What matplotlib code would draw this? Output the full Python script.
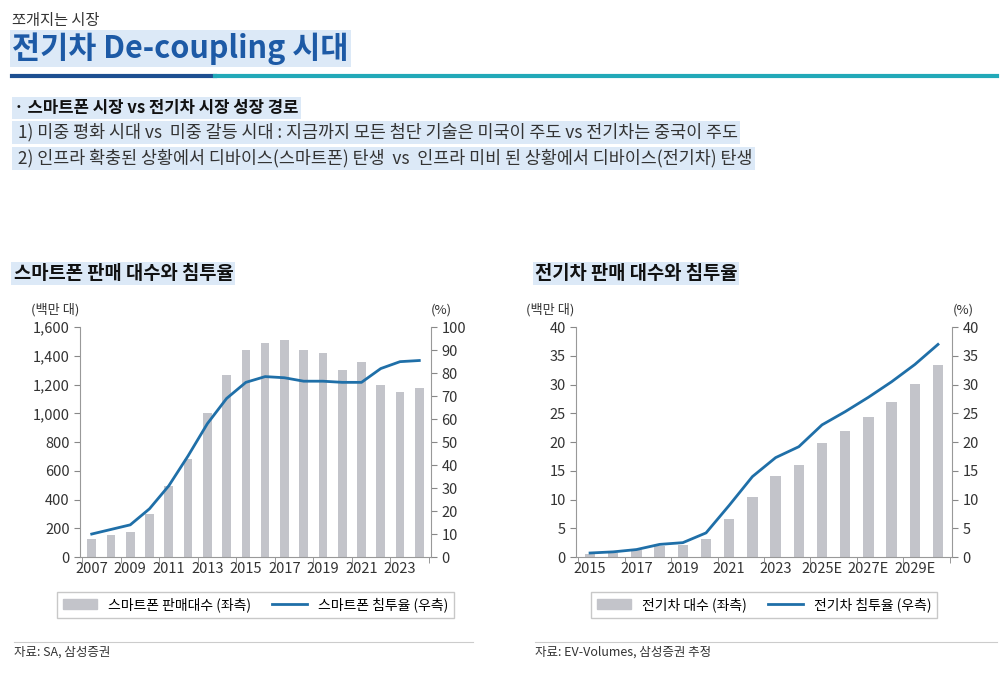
import numpy as np
import matplotlib.pyplot as plt

plt.rcParams['font.family'] = ['Noto Sans CJK KR', 'DejaVu Sans']

# 스마트폰
sp_years = [str(y) for y in range(2007, 2025)]
sp_units = [122, 151, 172, 297, 491, 680, 1000, 1270, 1440, 1490, 1510, 1440, 1420, 1300, 1360, 1200, 1150, 1180]
sp_rate = [10, 12, 14, 21, 31, 44, 58, 69, 76, 78.5, 78, 76.5, 76.5, 76, 76, 82, 85, 85.5]

# 전기차
ev_years = ['2015', '2016', '2017', '2018', '2019', '2020', '2021', '2022', '2023', '2024',
            '2025E', '2026E', '2027E', '2028E', '2029E', '2030E']
ev_units = [0.5, 0.7, 1.2, 2.0, 2.1, 3.2, 6.7, 10.5, 14.1, 16.1, 19.8, 21.9, 24.3, 27.0, 30.1, 33.4]
ev_rate = [0.7, 0.9, 1.3, 2.2, 2.5, 4.2, 9.0, 14.0, 17.3, 19.2, 23.0, 25.3, 27.8, 30.5, 33.5, 37.0]

BAR = '#c3c4ca'
LINE = '#1f6fa8'
TXT = '#333333'
HL = dict(facecolor='#dce9f7', edgecolor='none', pad=1.5)

fig = plt.figure(figsize=(10.02, 6.76), dpi=100)

fig.text(0.012, 0.982, '쪼개지는 시장', fontsize=11, color=TXT, va='top')
fig.text(0.012, 0.952, '전기차 De-coupling 시대', fontsize=22, color='#1d5aa6',
         fontweight='bold', va='top', bbox=HL)
fig.add_artist(plt.Line2D([0.012, 0.215], [0.887, 0.887], color='#1d4f91', lw=3))
fig.add_artist(plt.Line2D([0.215, 0.995], [0.887, 0.887], color='#22a9b8', lw=3))

fig.text(0.014, 0.84, '· 스마트폰 시장 vs 전기차 시장 성장 경로', fontsize=12, color='#111',
         fontweight='bold', va='center', bbox=HL)
fig.text(0.014, 0.804, ' 1) 미중 평화 시대 vs  미중 갈등 시대 : 지금까지 모든 첨단 기술은 미국이 주도 vs 전기차는 중국이 주도',
         fontsize=12.5, color=TXT, va='center', bbox=HL)
fig.text(0.014, 0.766, ' 2) 인프라 확충된 상황에서 디바이스(스마트폰) 탄생  vs  인프라 미비 된 상황에서 디바이스(전기차) 탄생',
         fontsize=12.5, color=TXT, va='center', bbox=HL)


def panel(rect, title, cats, units, rate, ylim, yticks, rlim, rticks, labels, src, leg1, leg2, fmt, tx):
    ax = fig.add_axes(rect)
    x = np.arange(len(cats))
    ax.bar(x, units, width=0.45, color=BAR)
    ax.set_ylim(*ylim)
    ax.set_yticks(yticks)
    ax.set_yticklabels([fmt(v) for v in yticks])
    ax.set_xlim(-0.6, len(cats) - 0.4)
    ax.set_xticks(x[::2])
    ax.set_xticklabels(labels)
    ax.set_xticks(np.arange(-0.5, len(cats), 2), minor=True)
    ax.tick_params(axis='x', which='major', length=0, labelsize=10.5, colors=TXT)
    ax.tick_params(axis='x', which='minor', length=4, color='#888')
    ax.tick_params(axis='y', labelsize=10.5, colors=TXT, length=4, color='#888')
    for s in ['top', 'right']:
        ax.spines[s].set_visible(False)
    ax.spines['left'].set_color('#999')
    ax.spines['bottom'].set_color('#999')
    ax2 = ax.twinx()
    ax2.plot(x, rate, color=LINE, lw=2)
    ax2.set_ylim(*rlim)
    ax2.set_yticks(rticks)
    ax2.tick_params(axis='y', labelsize=10.5, colors=TXT, length=4, color='#888')
    for s in ['top', 'left', 'bottom']:
        ax2.spines[s].set_visible(False)
    ax2.spines['right'].set_color('#999')
    ax.text(-0.07, 1.06, '(백만 대)', transform=ax.transAxes, fontsize=9.5, color=TXT, ha='center')
    ax.text(1.03, 1.06, '(%)', transform=ax.transAxes, fontsize=9.5, color=TXT, ha='center')
    ax.text(tx, 1.21, title, transform=ax.transAxes, fontsize=13.5, fontweight='bold',
            color='#111', bbox=HL)
    h1 = plt.Rectangle((0, 0), 1, 1, color=BAR)
    h2 = plt.Line2D([], [], color=LINE, lw=2)
    ax.legend([h1, h2], [leg1, leg2], loc='upper center', bbox_to_anchor=(0.5, -0.12), ncol=2,
              fontsize=10, frameon=True, edgecolor='#bbb', fancybox=False, handlelength=2.5,
              columnspacing=1.5)
    ax.text(tx, -0.43, src, transform=ax.transAxes, fontsize=9, color=TXT)
    ax.add_artist(plt.Line2D([tx, 1.12], [-0.37, -0.37], transform=ax.transAxes,
                             color='#ccc', lw=0.8, clip_on=False))


panel([0.08, 0.176, 0.35, 0.34], '스마트폰 판매 대수와 침투율', sp_years, sp_units, sp_rate,
      (0, 1600), list(range(0, 1601, 200)), (0, 100), list(range(0, 101, 10)), sp_years[::2],
      '자료: SA, 삼성증권', '스마트폰 판매대수 (좌측)', '스마트폰 침투율 (우측)',
      lambda v: f'{v:,}', -0.19)
panel([0.575, 0.176, 0.375, 0.34], '전기차 판매 대수와 침투율', ev_years, ev_units, ev_rate,
      (0, 40), list(range(0, 41, 5)), (0, 40), list(range(0, 41, 5)), ev_years[::2],
      '자료: EV-Volumes, 삼성증권 추정', '전기차 대수 (좌측)', '전기차 침투율 (우측)',
      lambda v: f'{v}', -0.11)

fig.savefig('out.png', dpi=100)
